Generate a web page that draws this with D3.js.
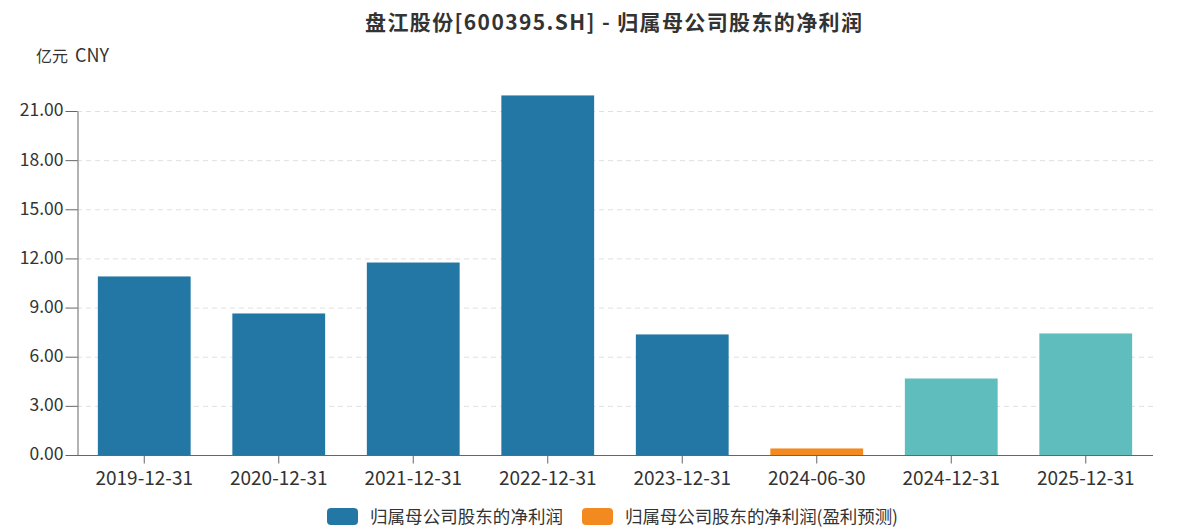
<!DOCTYPE html>
<html><head><meta charset="utf-8">
<script src="https://cdn.jsdelivr.net/npm/d3@7"></script>
<style>body{margin:0;background:#fff;}svg{display:block;font-family:"Noto Sans CJK SC","Microsoft YaHei",sans-serif;}</style>
</head><body>
<svg id="c" width="1196" height="530"></svg>
<script>
const categories = ["2019-12-31","2020-12-31","2021-12-31","2022-12-31","2023-12-31","2024-06-30","2024-12-31","2025-12-31"];
const values = [10.90, 8.64, 11.75, 21.95, 7.36, 0.40, 4.67, 7.42];
const kinds = ["actual","actual","actual","actual","actual","forecastH","forecast","forecast"];
const yTicks = [0,3,6,9,12,15,18,21];
const legendLabels = ["归属母公司股东的净利润","归属母公司股东的净利润(盈利预测)"];
const title = "盘江股份[600395.SH] - 归属母公司股东的净利润";
const unitParts = ["亿元", "CNY"];

const colorMap = {actual:"#2277a4", forecastH:"#f28a1f", forecast:"#5fbdbe"};
const legendColors = ["#2277a4","#f28a1f"];

const svg = d3.select("#c");
const m = {l:77, r:1153, t:111, b:455};
const x = d3.scaleBand().domain(categories).range([m.l, m.r]).paddingInner(0.31).paddingOuter(0.155);
const y = d3.scaleLinear().domain([0,21]).range([m.b, m.t]);

svg.append("text").attr("x",365).attr("y",30)
  .attr("font-size",21).attr("font-weight","bold").attr("fill","#333")
  .attr("textLength",497).attr("lengthAdjust","spacing").text(title);
svg.append("text").attr("x",36).attr("y",62).attr("font-size",16).attr("fill","#333").text(unitParts[0]);
svg.append("text").attr("x",75).attr("y",62).attr("font-size",18).attr("fill","#333").text(unitParts[1]);

// grid
svg.append("g").selectAll("line").data(yTicks.filter(d=>d>0)).join("line")
  .attr("x1",m.l).attr("x2",m.r).attr("y1",d=>y(d)+0.5).attr("y2",d=>y(d)+0.5)
  .attr("stroke","#e0e0e0").attr("stroke-dasharray","5,4");

// bars
svg.append("g").selectAll("rect").data(categories).join("rect")
  .attr("x",d=>x(d)).attr("width",x.bandwidth())
  .attr("y",(d,i)=>y(values[i])).attr("height",(d,i)=>y(0)-y(values[i]))
  .attr("fill",(d,i)=>colorMap[kinds[i]]);

// y axis
const ya = svg.append("g").attr("transform",`translate(${m.l+0.5},0)`)
  .call(d3.axisLeft(y).tickValues(yTicks).tickFormat(d3.format(".2f")).tickSize(12).tickSizeOuter(0).tickPadding(2));
ya.select(".domain").attr("stroke","#666");
ya.selectAll(".tick line").attr("stroke","#666");
ya.selectAll(".tick text").attr("font-size",17.5).attr("fill","#333").attr("dy","0.28em")
  .attr("font-family","'Noto Sans CJK SC',sans-serif");

// x axis
const xa = svg.append("g").attr("transform",`translate(0,${m.b+0.5})`)
  .call(d3.axisBottom(x).tickSize(8).tickSizeOuter(0).tickPadding(8));
xa.select(".domain").attr("stroke","#666").attr("d",`M${m.l},0H${m.r}`);
xa.selectAll(".tick line").attr("stroke","#666");
xa.selectAll(".tick text").attr("font-size",19).attr("fill","#333")
  .attr("font-family","'Noto Sans CJK SC',sans-serif");

// legend
const lg = svg.append("g");
const lx = [327, 582];
const lw = [193, 273];
legendLabels.forEach((t,i)=>{
  lg.append("rect").attr("x",lx[i]).attr("y",508).attr("width",31).attr("height",17).attr("rx",4).attr("fill",legendColors[i]);
  lg.append("text").attr("x",lx[i]+43).attr("y",523).attr("font-size",17.5).attr("fill","#333")
    .attr("textLength",lw[i]).attr("lengthAdjust","spacing").text(t);
});
</script>
</body></html>
